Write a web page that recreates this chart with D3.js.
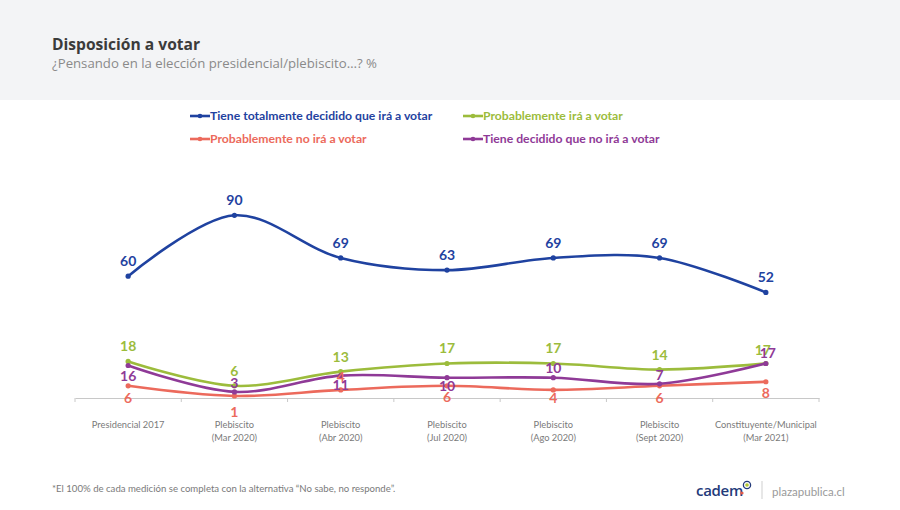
<!DOCTYPE html>
<html><head><meta charset="utf-8">
<script src="https://cdn.jsdelivr.net/npm/d3@7"></script>
<style>
body{margin:0;background:#fff;}
svg{display:block;}
</style></head>
<body>
<svg id="chart" width="900" height="510"></svg>
<script>
const categories = [
  ["Presidencial 2017"],
  ["Plebiscito","(Mar 2020)"],
  ["Plebiscito","(Abr 2020)"],
  ["Plebiscito","(Jul 2020)"],
  ["Plebiscito","(Ago 2020)"],
  ["Plebiscito","(Sept 2020)"],
  ["Constituyente/Municipal","(Mar 2021)"]
];
const seriesNames = [
  "Tiene totalmente decidido que irá a votar",
  "Probablemente irá a votar",
  "Probablemente no irá a votar",
  "Tiene decidido que no irá a votar"
];
const totalmenteDecidido = [60, 90, 69, 63, 69, 69, 52];
const probablementeIra   = [18, 6, 13, 17, 17, 14, 17];
const probablementeNo    = [6, 1, 4, 6, 4, 6, 8];
const decididoNo         = [16, 3, 11, 10, 10, 7, 17];

const colors = ["#1f42a0", "#9cbc3c", "#ec6a5c", "#8f3a97"];
// label baseline offsets relative to point (style only)
const labelDy = [
  [-10,-10,-10,-10,-10,-10,-10],
  [-10,-10,-10,-10,-10,-10,-8],
  [ 17, 21, -8, 16, 13, 17, 16],
  [ 15, -4, 14, 13, -5, -4, -5]
];
const labelDx = [
  [0,0,0,0,0,0,0],
  [0,0,0,0,0,0,-3],
  [0,0,0,0,0,0,0],
  [0,0,0,0,0,0,2]
];

const svg = d3.select("#chart");
const font = "Lato, 'Open Sans', sans-serif";

// header band
svg.append("rect").attr("x",0).attr("y",0).attr("width",900).attr("height",100).attr("fill","#f3f4f6");
svg.append("text").attr("x",52).attr("y",50).text("Disposición a votar")
  .attr("font-family","'Open Sans', sans-serif").attr("font-weight",700).attr("font-size",15.6).attr("fill","#3b3b3b");
svg.append("text").attr("x",52).attr("y",68).text("¿Pensando en la elección presidencial/plebiscito…? %")
  .attr("font-family","'Open Sans', sans-serif").attr("font-size",13.2).attr("fill","#8a8a8a");

const x = d3.scaleBand().domain(d3.range(categories.length)).range([75, 819]);
const y = d3.scaleLinear().domain([0, 100]).range([398, 195]);

// axis
const axis = d3.axisBottom(x).tickSize(0).tickFormat("");
const gAxis = svg.append("g").attr("transform","translate(0,398)").call(axis);
gAxis.select(".domain").attr("stroke","#c8c8c8");
// boundary ticks
const bounds = d3.range(categories.length+1).map(i => i < categories.length ? x(i) : x.range()[1]);
svg.append("g").selectAll("line").data(bounds).join("line")
  .attr("x1",d=>d).attr("x2",d=>d).attr("y1",398).attr("y2",402)
  .attr("stroke","#c8c8c8");

// category labels
const catG = svg.append("g");
categories.forEach((lines, i) => {
  const t = catG.append("text").attr("x", x(i)+x.bandwidth()/2).attr("y", 428)
    .attr("text-anchor","middle").attr("font-family",font).attr("font-size",9.3).attr("fill","#7a7a7a");
  lines.forEach((l, j) => t.append("tspan").attr("x", x(i)+x.bandwidth()/2).attr("dy", j===0?0:12.7).text(l));
});

const series = [totalmenteDecidido, probablementeIra, probablementeNo, decididoNo];
const line = d3.line().x((d,i)=>x(i)+x.bandwidth()/2).y(d=>y(d)).curve(d3.curveCatmullRom.alpha(0.5));

const drawOrder = [2, 1, 3, 0];
drawOrder.forEach(s => {
  const g = svg.append("g");
  g.append("path").datum(series[s]).attr("d", line).attr("fill","none")
    .attr("stroke", colors[s]).attr("stroke-width", 2.6).attr("stroke-linecap","round");
  g.selectAll("circle").data(series[s]).join("circle")
    .attr("cx",(d,i)=>x(i)+x.bandwidth()/2).attr("cy",d=>y(d)).attr("r",2.6).attr("fill",colors[s]);
});
// labels
[2, 1, 3, 0].forEach(s => {
  svg.append("g").selectAll("text").data(series[s]).join("text")
    .attr("x",(d,i)=>x(i)+x.bandwidth()/2 + labelDx[s][i])
    .attr("y",(d,i)=>y(d) + labelDy[s][i])
    .attr("text-anchor","middle").attr("font-family",font).attr("font-weight",700)
    .attr("font-size",14).attr("fill",colors[s]).text(d=>d);
});

// legend
const legendItems = [
  {s:0, x:190, y:116},
  {s:1, x:463, y:116},
  {s:2, x:190, y:139},
  {s:3, x:463, y:139}
];
legendItems.forEach(it => {
  const g = svg.append("g").attr("transform",`translate(${it.x},${it.y})`);
  g.append("line").attr("x1",0).attr("x2",20).attr("y1",0).attr("y2",0).attr("stroke",colors[it.s]).attr("stroke-width",2.6);
  g.append("circle").attr("cx",10).attr("cy",0).attr("r",2.3).attr("fill",colors[it.s]);
  g.append("text").attr("x",20).attr("y",4.3).attr("font-family",font).attr("font-weight",700)
    .attr("font-size",12.2).attr("fill",colors[it.s]).text(seriesNames[it.s]);
});

// footer
svg.append("text").attr("x",52).attr("y",492).text("*El 100% de cada medición se completa con la alternativa \u201CNo sabe, no responde\u201D.")
  .attr("font-family",font).attr("font-size",9.6).attr("fill","#7a7a7a");
svg.append("text").attr("x",696).attr("y",496).text("cadem")
  .attr("font-family","'Open Sans', sans-serif").attr("font-weight",600).attr("font-size",15).attr("fill","#233a7a").attr("letter-spacing",-0.3);
svg.append("circle").attr("cx",747).attr("cy",485).attr("r",3.6).attr("fill","none").attr("stroke","#233a7a").attr("stroke-width",1.3);
svg.append("circle").attr("cx",747).attr("cy",485).attr("r",1.8).attr("fill","#b5c933");
svg.append("circle").attr("cx",742).attr("cy",493).attr("r",1.6).attr("fill","#e05a4a");
svg.append("line").attr("x1",762).attr("x2",762).attr("y1",481).attr("y2",499).attr("stroke","#cfcfcf");
svg.append("text").attr("x",772).attr("y",496).text("plazapublica.cl")
  .attr("font-family",font).attr("font-size",11.5).attr("fill","#9a9a9a");
</script>
</body></html>
